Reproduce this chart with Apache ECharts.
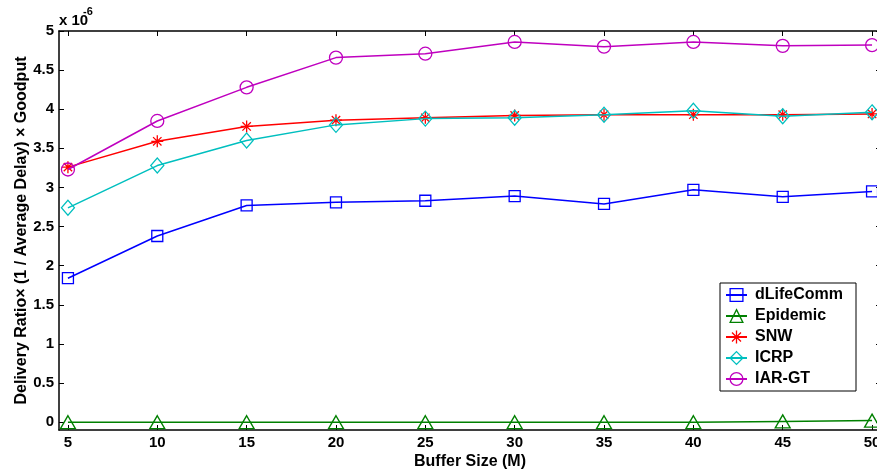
<!DOCTYPE html>
<html>
<head>
<meta charset="utf-8">
<script src="https://cdn.jsdelivr.net/npm/echarts@6/dist/echarts.min.js"></script>
<style>
  html, body { margin: 0; padding: 0; background: #ffffff; }
  #chart { width: 877px; height: 470px; }
</style>
</head>
<body>
<div id="chart"></div>
<script>
// Buffer size (M) on the x axis
const bufferSizes = [5, 10, 15, 20, 25, 30, 35, 40, 45, 50];

// Tick positions
const xTicks = [5, 10, 15, 20, 25, 30, 35, 40, 45, 50];
const yTicks = [0, 0.5, 1, 1.5, 2, 2.5, 3, 3.5, 4, 4.5, 5];

// Delivery ratio x (1 / average delay) x goodput, in units of 1e-6
const dLifeComm = [1.84, 2.38, 2.77, 2.81, 2.83, 2.89, 2.79, 2.97, 2.88, 2.95];
const epidemic  = [0.00, 0.00, 0.00, 0.00, 0.00, 0.00, 0.00, 0.00, 0.01, 0.02];
const snw       = [3.26, 3.59, 3.78, 3.86, 3.89, 3.92, 3.93, 3.93, 3.93, 3.94];
const icrp      = [2.74, 3.28, 3.60, 3.80, 3.88, 3.89, 3.93, 3.98, 3.91, 3.96];
const iarGt     = [3.23, 3.85, 4.28, 4.66, 4.71, 4.86, 4.80, 4.86, 4.81, 4.82];

const seriesNames = ['dLifeComm', 'Epidemic', 'SNW', 'ICRP', 'IAR-GT'];
const seriesValues = [dLifeComm, epidemic, snw, icrp, iarGt];
const seriesColors = ['#0000ff', '#008000', '#ff0000', '#00bfbf', '#bf00bf'];

// MATLAB-like hollow markers
const asterisk = 'path://M10,0L10,20M0,10L20,10M3,3L17,17M3,17L17,3';
const markers = [
  { symbol: 'rect', size: 11 },
  { symbol: 'triangle', size: [15, 13] },
  { symbol: asterisk, size: 12 },
  { symbol: 'diamond', size: [13, 15] },
  { symbol: 'circle', size: 13 }
];

const FONT = '"Liberation Sans", Arial, Helvetica, sans-serif';
const axisLineStyle = { color: '#000000', width: 1.5 };

const chart = echarts.init(document.getElementById('chart'), null, { renderer: 'canvas' });

const series = seriesNames.map((name, i) => ({
  name: name,
  type: 'line',
  xAxisIndex: 0,
  yAxisIndex: 0,
  data: bufferSizes.map((x, k) => [x, seriesValues[i][k]]),
  symbol: markers[i].symbol,
  symbolSize: markers[i].size,
  showSymbol: true,
  lineStyle: { color: seriesColors[i], width: 1.5 },
  itemStyle: { color: 'rgba(0,0,0,0)', borderColor: seriesColors[i], borderWidth: 1.3 },
  emphasis: { disabled: true },
  silent: true,
  z: 2 + i
}));

const xCommon = {
  type: 'value',
  min: 4.5,
  max: 50.5,
  splitLine: { show: false },
  axisLine: { show: true, onZero: false, lineStyle: axisLineStyle },
  axisTick: { show: true, inside: true, length: 5, customValues: xTicks, lineStyle: { color: '#000', width: 1 } }
};
const yCommon = {
  type: 'value',
  min: -0.1,
  max: 5,
  splitLine: { show: false },
  axisLine: { show: true, onZero: false, lineStyle: axisLineStyle },
  axisTick: { show: true, inside: true, length: 5, customValues: yTicks, lineStyle: { color: '#000', width: 1 } }
};

chart.setOption({
  animation: false,
  backgroundColor: '#ffffff',
  grid: {
    left: 59,
    top: 31,
    right: -4,
    bottom: 40,
    containLabel: false,
    outerBoundsMode: 'none'
  },
  xAxis: [
    Object.assign({}, xCommon, {
      position: 'bottom',
      axisLabel: {
        customValues: xTicks,
        color: '#000', fontFamily: FONT, fontWeight: 'bold', fontSize: 15, margin: 5
      },
      name: 'Buffer Size (M)',
      nameLocation: 'middle',
      nameGap: 24,
      nameMoveOverlap: false,
      nameTextStyle: { color: '#000', fontFamily: FONT, fontWeight: 'bold', fontSize: 16 }
    }),
    Object.assign({}, xCommon, {
      position: 'top',
      axisLabel: { show: false }
    })
  ],
  yAxis: [
    Object.assign({}, yCommon, {
      position: 'left',
      axisLabel: {
        customValues: yTicks,
        color: '#000', fontFamily: FONT, fontWeight: 'bold', fontSize: 15, margin: 5
      },
      name: 'Delivery Ratio× (1 / Average Delay) × Goodput',
      nameLocation: 'middle',
      nameRotate: 90,
      nameGap: 29,
      nameMoveOverlap: false,
      nameTextStyle: { color: '#000', fontFamily: FONT, fontWeight: 'bold', fontSize: 16 }
    }),
    Object.assign({}, yCommon, {
      position: 'right',
      axisLabel: { show: false }
    })
  ],
  legend: {
    show: true,
    orient: 'vertical',
    left: 720,
    top: 283,
    itemWidth: 21,
    itemHeight: 16,
    itemGap: 5,
    padding: [4, 13, 4, 5],
    borderColor: '#000',
    borderWidth: 1,
    backgroundColor: '#ffffff',
    selectedMode: false,
    data: seriesNames,
    itemStyle: { borderWidth: 1.3 },
    textStyle: {
      color: '#000', fontFamily: FONT, fontWeight: 'bold', fontSize: 16,
      padding: [0, 0, 0, 3]
    }
  },
  graphic: [
    {
      type: 'text', left: 59, top: 13, silent: true,
      style: { text: 'x 10', fill: '#000', font: 'bold 15px ' + FONT }
    },
    {
      type: 'text', left: 83, top: 6, silent: true,
      style: { text: '-6', fill: '#000', font: 'bold 11px ' + FONT }
    }
  ],
  series: series
});
</script>
</body>
</html>
